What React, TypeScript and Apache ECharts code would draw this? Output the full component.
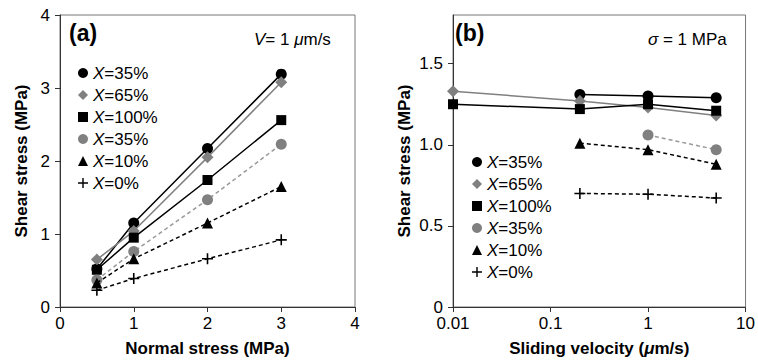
import React, { useEffect, useRef } from "react";
import * as echarts from "echarts";

const FONT = "Liberation Sans";

// Panel (a): shear stress vs normal stress (V = 1 um/s)
const normalStress = [0.5, 1, 2, 3];
const aX35 = [0.52, 1.15, 2.17, 3.19];
const aX65 = [0.65, 1.04, 2.05, 3.08];
const aX100 = [0.51, 0.95, 1.74, 2.56];
const aX35b = [0.37, 0.76, 1.47, 2.23];
const aX10 = [0.33, 0.66, 1.15, 1.65];
const aX0 = [0.23, 0.39, 0.66, 0.92];

// Panel (b): shear stress vs sliding velocity (sigma = 1 MPa)
const bX35v = [0.2, 1, 5];
const bX35 = [1.31, 1.3, 1.29];
const bX65v = [0.01, 0.2, 1, 5];
const bX65 = [1.33, 1.27, 1.23, 1.18];
const bX100v = [0.01, 0.2, 1, 5];
const bX100 = [1.25, 1.22, 1.25, 1.21];
const bX35bv = [1, 5];
const bX35b = [1.06, 0.97];
const bX10v = [0.2, 1, 5];
const bX10 = [1.01, 0.97, 0.88];
const bX0v = [0.2, 1, 5];
const bX0 = [0.7, 0.695, 0.672];

const legendLabels = ["35%", "65%", "100%", "35%", "10%", "0%"];
const aTicks = ["0", "1", "2", "3", "4"];
const bTickValues = [0, 0.5, 1, 1.5];
const bTickLabels = ["0", "0.5", "1.0", "1.5"];

const PLUS = "path://M6,0H8V6H14V8H8V14H6V8H0V6H6Z";

const styles = [
  { color: "#000", symbol: "circle", size: 11, line: "solid", lineColor: "#000" },
  { color: "#808080", symbol: "diamond", size: 12, line: "solid", lineColor: "#808080" },
  { color: "#000", symbol: "rect", size: 10, line: "solid", lineColor: "#000" },
  { color: "#808080", symbol: "circle", size: 11, line: "dashed", lineColor: "#999" },
  { color: "#000", symbol: "triangle", size: 11, line: "dashed", lineColor: "#000" },
  { color: "#000", symbol: PLUS, size: 11, line: "dashed", lineColor: "#000" },
];
const legendIcons = ["circle", "diamond", "rect", "circle", "triangle", PLUS];

const zip = (xs: number[], ys: number[]) => xs.map((x, i) => [x, ys[i]]);

export default function App() {
  const ref = useRef<HTMLDivElement>(null);
  useEffect(() => {
    if (!ref.current) return;
    const chart = echarts.init(ref.current, null, { renderer: "svg" });

    const aData = [aX35, aX65, aX100, aX35b, aX10, aX0].map((ys) => zip(normalStress, ys));
    const bData = [
      zip(bX35v, bX35),
      zip(bX65v, bX65),
      zip(bX100v, bX100),
      zip(bX35bv, bX35b),
      zip(bX10v, bX10),
      zip(bX0v, bX0),
    ];

    const mk = (prefix: string, idx: number, data: number[][], gi: number) => {
      const s = styles[idx];
      return {
        name: prefix + idx,
        type: "line",
        xAxisIndex: gi,
        yAxisIndex: gi,
        data,
        symbol: s.symbol,
        symbolSize: s.size,
        itemStyle: { color: s.color },
        lineStyle: {
          color: s.lineColor,
          width: 1.5,
          type: s.line === "dashed" ? [4, 3] : "solid",
        },
        z: 2 + idx,
      };
    };

    const series: any[] = [];
    aData.forEach((d, i) => series.push(mk("a", i, d, 0)));
    bData.forEach((d, i) => series.push(mk("b", i, d, 1)));

    const legendFmt = (name: string) => "{i|X}=" + legendLabels[Number(name.slice(1))];
    const legendText = {
      fontFamily: FONT,
      fontSize: 17,
      color: "#000",
      lineHeight: 18,
      rich: {
        i: { fontFamily: FONT, fontSize: 17, fontStyle: "italic", color: "#000", lineHeight: 18 },
      },
    };
    const mkLegend = (prefix: string, left: number, top: number) => ({
      orient: "vertical",
      left,
      top,
      padding: 0,
      itemWidth: 10,
      itemHeight: 10,
      itemGap: 4,
      formatter: legendFmt,
      textStyle: legendText,
      selectedMode: false,
      data: legendIcons.map((icon, i) => ({ name: prefix + i, icon })),
    });

    const axisLineStyle = { color: "#333", width: 1 };
    const labelStyle = { fontFamily: FONT, fontSize: 17, color: "#000" };
    const nameStyle = { fontFamily: FONT, fontSize: 17, fontWeight: "bold", color: "#000" };

    chart.setOption({
      animation: false,
      backgroundColor: "#fff",
      grid: [
        { left: 60, top: 15, width: 295, height: 293, show: true, borderColor: "#777", borderWidth: 1 },
        { left: 453, top: 15, width: 295, height: 293, show: true, borderColor: "#777", borderWidth: 1 },
      ],
      xAxis: [
        {
          gridIndex: 0,
          type: "value",
          min: 0,
          max: 4,
          interval: 1,
          axisLine: { show: true, lineStyle: axisLineStyle },
          axisTick: { show: true, length: 5, lineStyle: axisLineStyle },
          axisLabel: { ...labelStyle, margin: 8, formatter: (v: number) => aTicks[Math.round(v)] ?? String(v) },
          splitLine: { show: false },
          name: "Normal stress (MPa)",
          nameLocation: "middle",
          nameGap: 33,
          nameTextStyle: nameStyle,
        },
        {
          gridIndex: 1,
          type: "log",
          logBase: 10,
          min: 0.01,
          max: 10,
          axisLine: { show: true, lineStyle: axisLineStyle },
          axisTick: { show: true, length: 5, lineStyle: axisLineStyle },
          minorTick: { show: false },
          axisLabel: {
            ...labelStyle,
            margin: 8,
            formatter: (v: number) => String(Number(v.toPrecision(3))),
          },
          splitLine: { show: false },
          name: "Sliding velocity ({i|μ}m/s)",
          nameLocation: "middle",
          nameGap: 33,
          nameTextStyle: {
            ...nameStyle,
            rich: { i: { fontFamily: FONT, fontSize: 17, fontWeight: "bold", fontStyle: "italic", color: "#000" } },
          },
        },
      ],
      yAxis: [
        {
          gridIndex: 0,
          type: "value",
          min: 0,
          max: 4,
          interval: 1,
          axisLine: { show: true, lineStyle: axisLineStyle },
          axisTick: { show: true, length: 5, lineStyle: axisLineStyle },
          axisLabel: { ...labelStyle, margin: 10 },
          splitLine: { show: false },
          name: "Shear stress (MPa)",
          nameLocation: "middle",
          nameGap: 30,
          nameTextStyle: nameStyle,
        },
        {
          gridIndex: 1,
          type: "value",
          min: 0,
          max: 1.8,
          interval: 0.5,
          axisLine: { show: true, lineStyle: axisLineStyle },
          axisTick: { show: true, length: 5, lineStyle: axisLineStyle, customValues: bTickValues },
          axisLabel: {
            ...labelStyle,
            margin: 10,
            customValues: bTickValues,
            formatter: (v: number) => {
              const i = bTickValues.findIndex((t) => Math.abs(t - v) < 1e-6);
              return i >= 0 ? bTickLabels[i] : "";
            },
          },
          splitLine: { show: false },
          name: "Shear stress (MPa)",
          nameLocation: "middle",
          nameGap: 40,
          nameTextStyle: nameStyle,
        },
      ],
      legend: [mkLegend("a", 78, 64), mkLegend("b", 472, 153)],
      graphic: [
        {
          type: "text",
          left: 69,
          top: 21,
          style: { text: "(a)", fontFamily: FONT, fontSize: 23, fontWeight: "bold", fill: "#000" },
        },
        {
          type: "text",
          left: 455,
          top: 21,
          style: { text: "(b)", fontFamily: FONT, fontSize: 23, fontWeight: "bold", fill: "#000" },
        },
        {
          type: "text",
          left: 254,
          top: 31,
          style: {
            text: "{i|V}= 1 {i|μ}m/s",
            fontFamily: FONT,
            fontSize: 17,
            fill: "#000",
            rich: { i: { fontFamily: FONT, fontSize: 17, fontStyle: "italic", fill: "#000" } },
          },
        },
        {
          type: "text",
          left: 648,
          top: 31,
          style: {
            text: "{i|σ} = 1 MPa",
            fontFamily: FONT,
            fontSize: 17,
            fill: "#000",
            rich: { i: { fontFamily: FONT, fontSize: 17, fontStyle: "italic", fill: "#000" } },
          },
        },
      ],
      series,
    });
    return () => chart.dispose();
  }, []);
  return <div ref={ref} style={{ width: 758, height: 362, position: "absolute", left: 0, top: 0 }} />;
}
